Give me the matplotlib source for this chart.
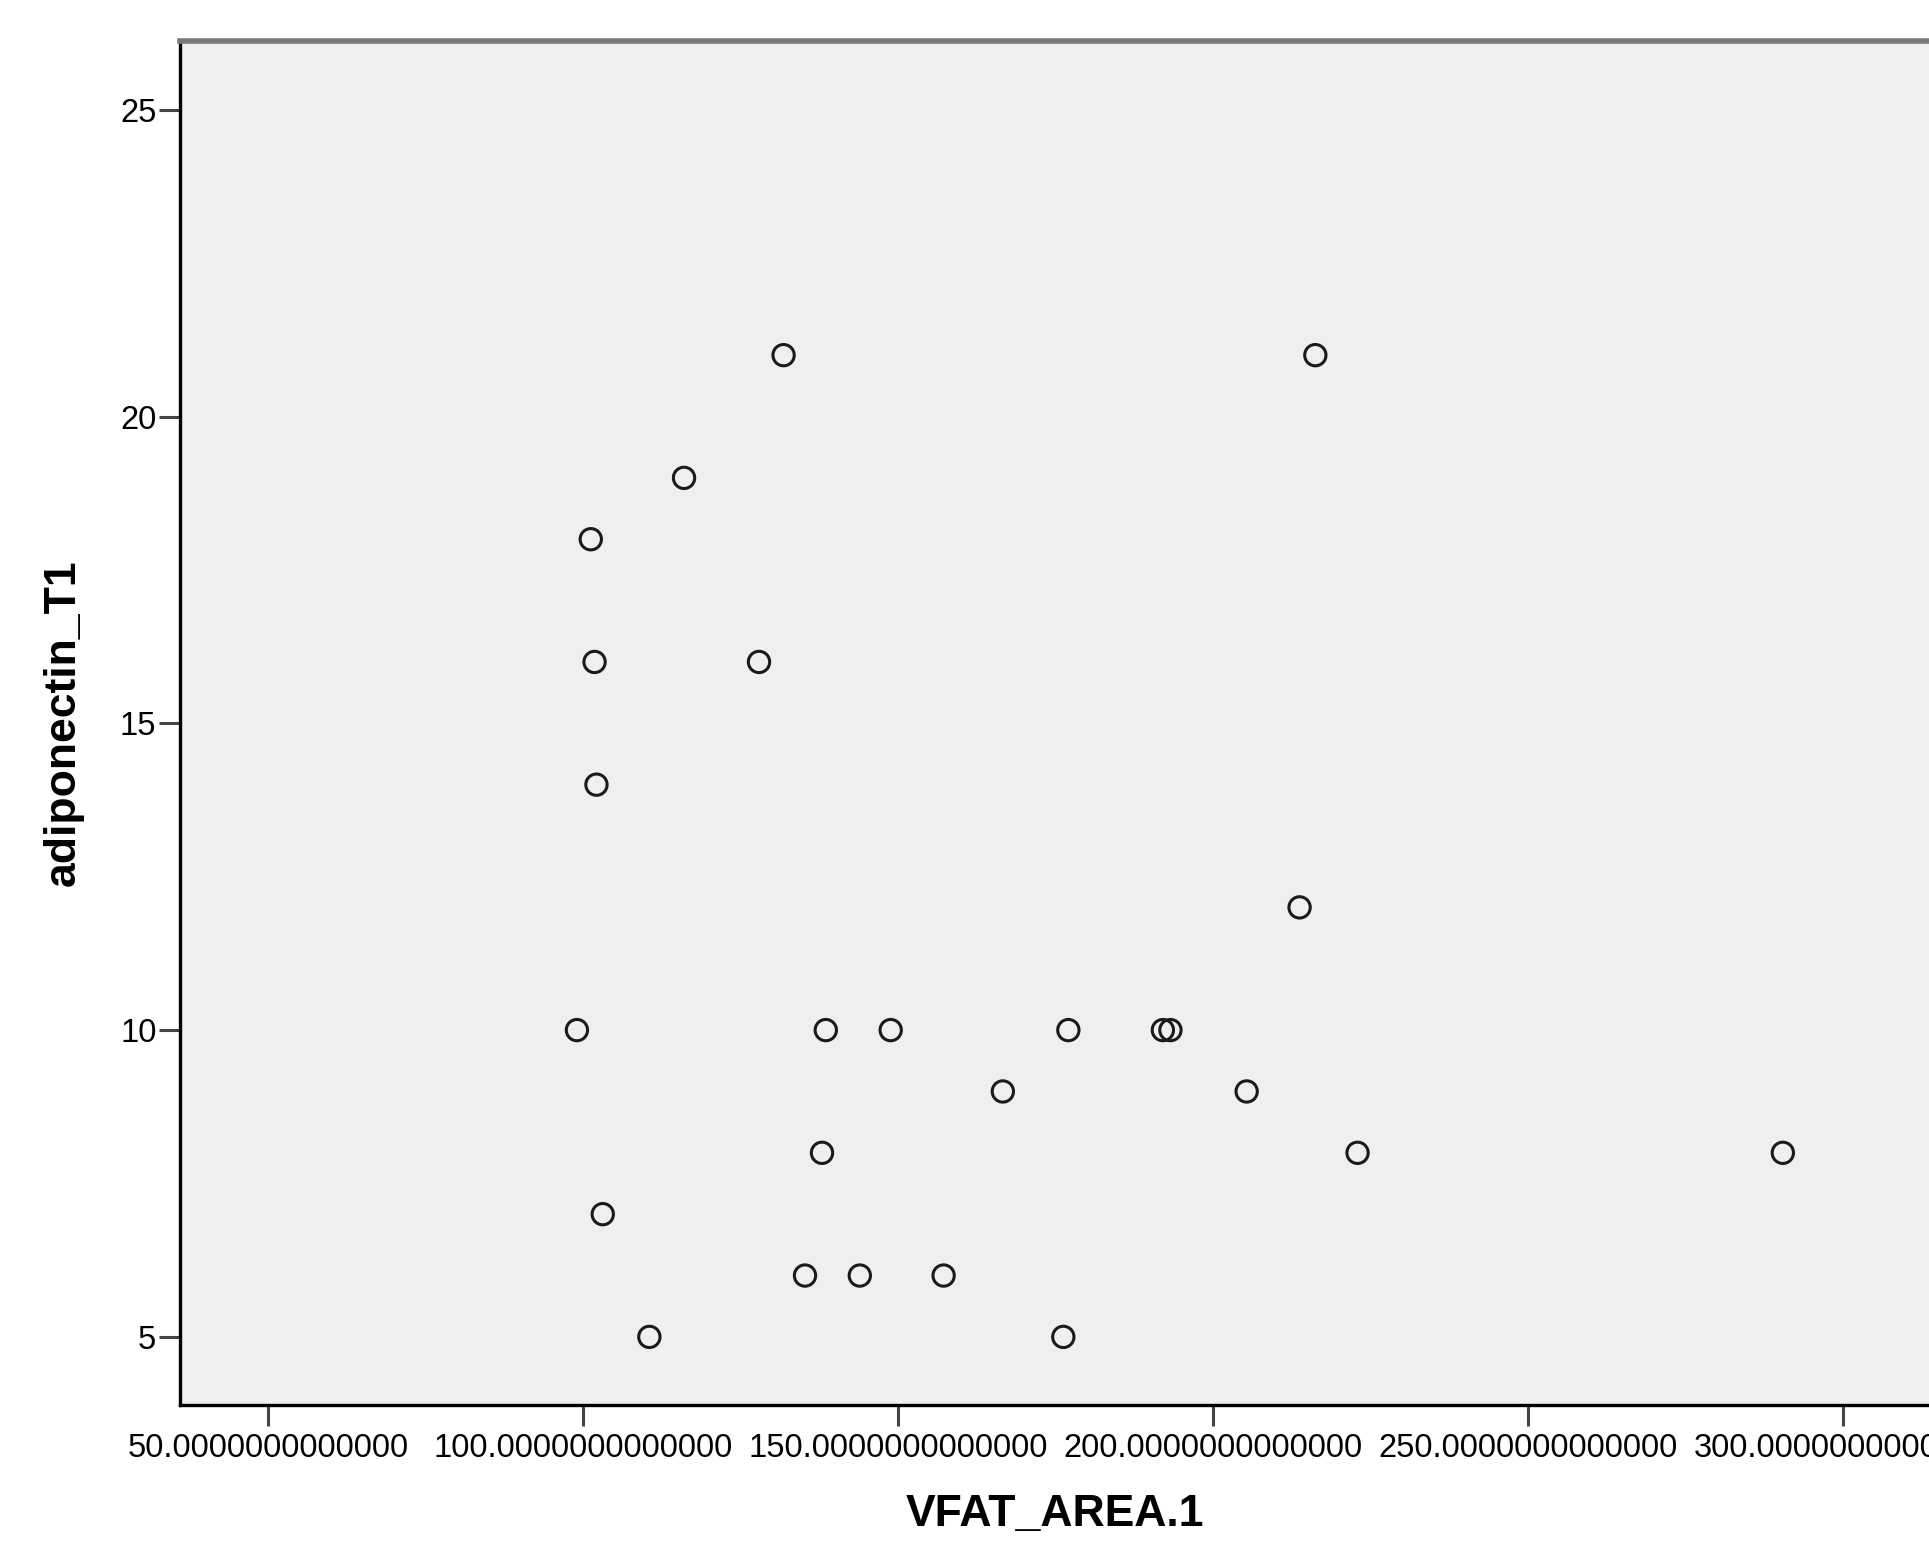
import matplotlib
matplotlib.use('Agg')
import matplotlib.pyplot as plt
from matplotlib.ticker import FixedLocator, FormatStrFormatter

# values
vfat_area = [131.8, 216.2, 116.0, 101.2, 101.8, 127.9, 102.1, 213.7,
             99.0, 138.5, 148.8, 177.0, 192.0, 193.2, 166.6, 205.3,
             137.9, 222.9, 290.4, 103.1, 135.2, 143.9, 157.2, 110.5, 176.2]
adiponectin = [21, 21, 19, 18, 16, 16, 14, 12,
               10, 10, 10, 10, 10, 10, 9, 9,
               8, 8, 8, 7, 6, 6, 6, 5, 5]
x_ticks = [50, 100, 150, 200, 250, 300]
y_ticks = [5, 10, 15, 20, 25]

plt.rcParams['font.family'] = ['Liberation Sans', 'DejaVu Sans']

W, H = 1929, 1549
fig = plt.figure(figsize=(W / 100, H / 100), dpi=100)
ax = fig.add_axes([180 / W, (H - 1405) / H, (W - 180) / W, (1405 - 41) / H])
ax.set_facecolor('#efefef')

ax.scatter(vfat_area, adiponectin, s=235, facecolors='none',
           edgecolors='#1a1a1a', linewidths=2.2, zorder=3)

ax.set_xlim(36.0, 313.6)
ax.set_ylim(3.89, 26.12)
ax.xaxis.set_major_locator(FixedLocator(x_ticks))
ax.yaxis.set_major_locator(FixedLocator(y_ticks))
ax.xaxis.set_major_formatter(FormatStrFormatter('%.13f'))

ax.tick_params(axis='both', length=15, width=2.2, color='#444444',
               labelsize=23.5, labelcolor='black')
ax.tick_params(axis='y', pad=2)
ax.tick_params(axis='x', pad=5)

ax.spines['right'].set_visible(False)
ax.spines['top'].set_color('#7a7a7a')
ax.spines['top'].set_linewidth(4)
ax.spines['left'].set_color('black')
ax.spines['left'].set_linewidth(2.4)
ax.spines['bottom'].set_color('black')
ax.spines['bottom'].set_linewidth(2.4)

ax.set_xlabel('VFAT_AREA.1', fontsize=32, fontweight='bold', labelpad=22)
ax.set_ylabel('adiponectin_T1', fontsize=32, fontweight='bold', labelpad=26)

fig.savefig('out.png', dpi=100)
